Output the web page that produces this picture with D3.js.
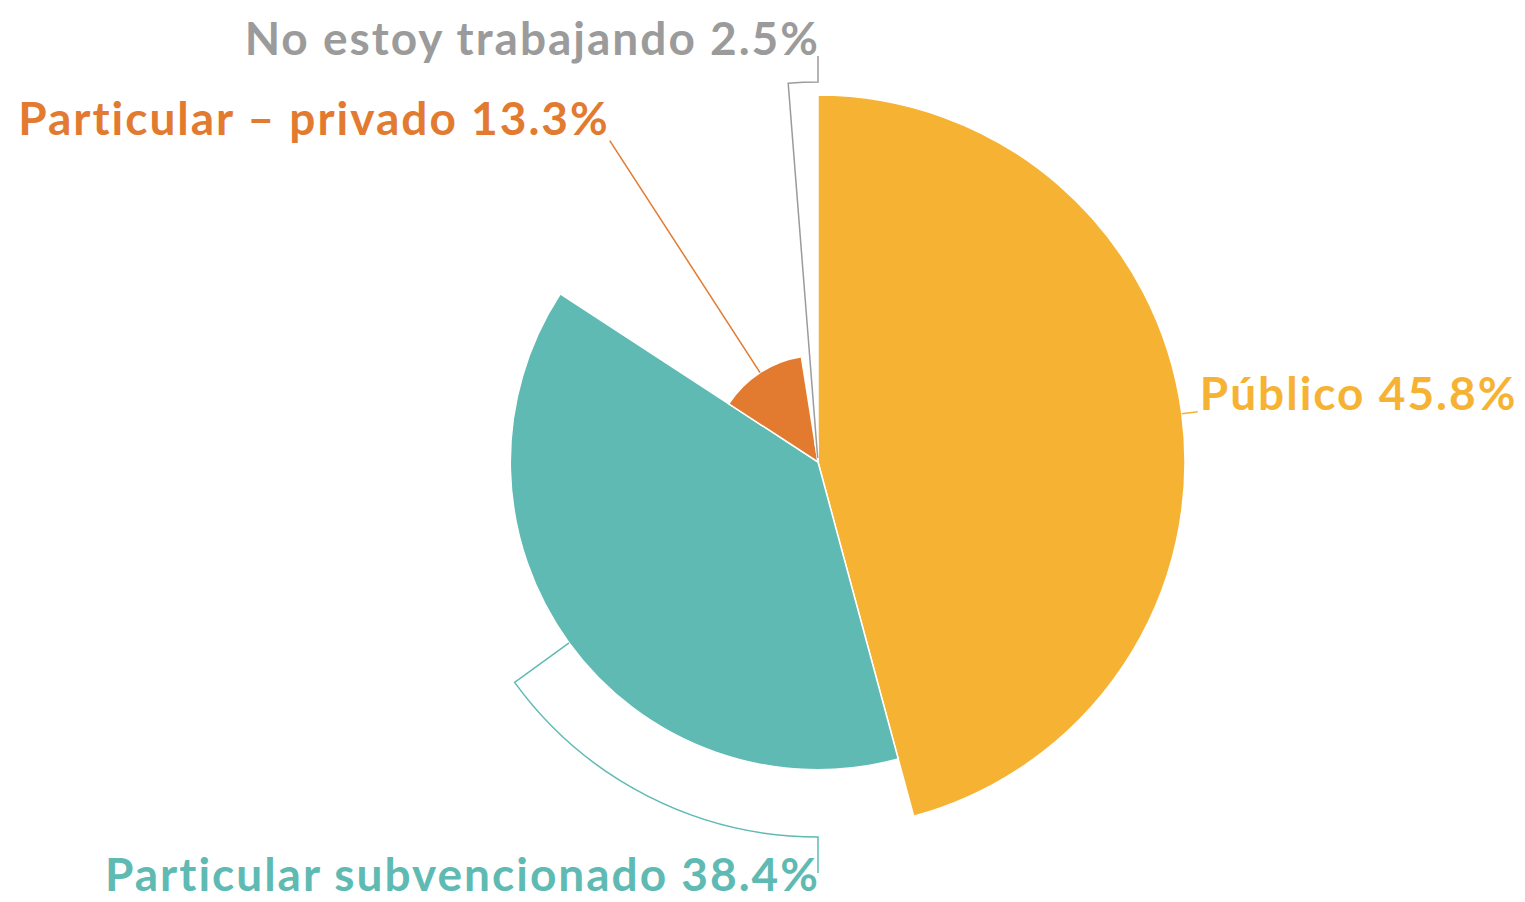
<!DOCTYPE html>
<html><head><meta charset="utf-8">
<script src="https://cdn.jsdelivr.net/npm/d3@7"></script>
<style>html,body{margin:0;padding:0;background:#fff;}svg{display:block;}</style>
</head><body>
<svg id="chart" width="1525" height="902"></svg>
<script>
const categories = ["Público", "Particular subvencionado", "Particular – privado", "No estoy trabajando"];
const values = [45.8, 38.4, 13.3, 2.5];
const labels = ["Público 45.8%", "Particular subvencionado 38.4%", "Particular – privado 13.3%", "No estoy trabajando 2.5%"];
const fills = ["#F6B333", "#5FBAB3", "#E27A2F", "#FFFFFF"];
const textColors = ["#F6B333", "#5FBAB3", "#E27A2F", "#9B9B9B"];
const lineColors = ["#F6B333", "#5FBAB3", "#E27A2F", "#9B9B9B"];

const cx = 818, cy = 462;
const svg = d3.select("#chart");
const g = svg.append("g").attr("transform", `translate(${cx},${cy})`);

const rScale = d3.scaleLinear().domain([0, d3.max(values)]).range([0, 367]);
const data = categories.map((c, i) => ({ c, v: values[i], i }));
const pie = d3.pie().value(d => d.v).sort(null);
const arcs = pie(data);

const arcGen = d3.arc().innerRadius(0).outerRadius(d => rScale(d.data.v));
g.selectAll("path.slice").data(arcs).join("path")
  .attr("class", "slice")
  .attr("d", arcGen)
  .attr("fill", d => fills[d.data.i])
  .attr("stroke", "#fff").attr("stroke-width", 1.5);

const pt = (a, r) => [r * Math.sin(a), -r * Math.cos(a)];

const fontSize = 46;
const leaders = [
  // Público: short line to the right
  d => { const m = (d.startAngle + d.endAngle) / 2; const p = pt(m, rScale(d.data.v)); const e = [p[0] + 16, p[1] - 2];
    return { path: d3.line()([p, e]), tx: e[0] + 2, ty: e[1] - 2, anchor: "start" }; },
  // subvencionado: radial, arc to bottom, down
  d => { const m = (d.startAngle + d.endAngle) / 2; const r0 = rScale(d.data.v), r1 = 375;
    const p = d3.path(); const a = pt(m, r0), b = pt(m, r1);
    p.moveTo(a[0], a[1]); p.lineTo(b[0], b[1]);
    p.arc(0, 0, r1, m - Math.PI / 2, Math.PI / 2, true);
    const c = pt(Math.PI, r1); p.lineTo(c[0], c[1] + 36);
    return { path: p.toString(), tx: c[0] + 2, ty: c[1] + 54, anchor: "end" }; },
  // privado: radial to label
  d => { const m = (d.startAngle + d.endAngle) / 2; const a = pt(m, rScale(d.data.v)), b = pt(m, 383);
    return { path: d3.line()([a, b]), tx: b[0], ty: b[1] - 6, anchor: "end" }; },
  // no estoy: radial, arc to top, up
  d => { const m = (d.startAngle + d.endAngle) / 2; const r1 = 380;
    const p = d3.path(); const a = pt(m, 4), b = pt(m, r1);
    p.moveTo(a[0], a[1]); p.lineTo(b[0], b[1]);
    p.arc(0, 0, r1, m - Math.PI / 2, 2 * Math.PI - Math.PI / 2, false);
    const c = pt(2 * Math.PI, r1); p.lineTo(c[0], c[1] - 26);
    return { path: p.toString(), tx: c[0] + 2, ty: c[1] - 27, anchor: "end" }; }
];

arcs.forEach(d => {
  const L = leaders[d.data.i](d);
  g.append("path").attr("d", L.path).attr("fill", "none")
    .attr("stroke", lineColors[d.data.i]).attr("stroke-width", 1.5);
  g.append("text").attr("x", L.tx).attr("y", L.ty)
    .attr("text-anchor", L.anchor)
    .attr("font-family", "Lato, sans-serif").attr("font-weight", 700)
    .attr("font-size", fontSize)
    .attr("letter-spacing", 2)
    .style("font-variant-ligatures", "none")
    .attr("fill", textColors[d.data.i])
    .text(labels[d.data.i]);
});
</script>
</body></html>
